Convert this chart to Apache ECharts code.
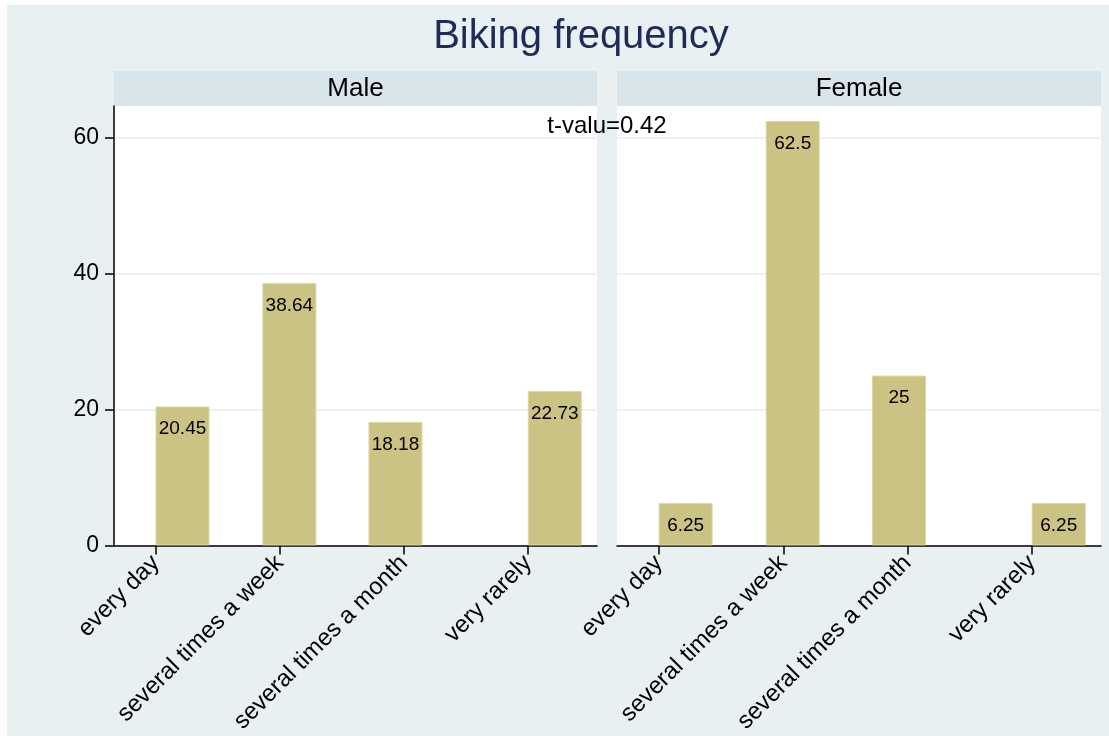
<!DOCTYPE html>
<html>
<head>
<meta charset="utf-8">
<script src="https://cdn.jsdelivr.net/npm/echarts@6/dist/echarts.min.js"></script>
<style>
  html, body { margin: 0; padding: 0; background: #fff; }
  #chart { width: 1109px; height: 736px; }
</style>
</head>
<body>
<div id="chart"></div>
<script>
// categories and where they sit on the panel axis
const categories = ['every day', 'several times a week', 'several times a month', 'very rarely'];
const tickPos = [1, 2, 3, 4];
// bar x positions as drawn in the original (they do not line up with the ticks)
const barPos = [1.215, 2.076, 2.931, 4.215];
const maleValues = [20.45, 38.64, 18.18, 22.73];
const femaleValues = [6.25, 62.5, 25, 6.25];
const yTicks = [0, 20, 40, 60];
const panels = ['Male', 'Female'];
const tValueText = 't-valu=0.42';

const font = 'Liberation Sans, Arial, Helvetica, sans-serif';
const barColor = '#cbc383';

const chart = echarts.init(document.getElementById('chart'));

const grids = [
  { left: 114, top: 106, width: 483, height: 440 },
  { left: 617, top: 106, width: 484, height: 440 }
];

function xAxisFor(i) {
  return {
    type: 'value',
    gridIndex: i,
    position: 'bottom',
    min: 0.663,
    max: 4.555,
    axisLine: { show: true, onZero: false, lineStyle: { color: '#000', width: 1.5 } },
    axisTick: { show: true, inside: false, length: 9, customValues: tickPos, lineStyle: { color: '#000', width: 1.5 } },
    axisLabel: {
      show: true,
      inside: false,
      customValues: tickPos,
      rotate: 45,
      margin: 14,
      fontSize: 24,
      fontFamily: font,
      color: '#000',
      formatter: v => categories[Math.round(v) - 1] || ''
    },
    splitLine: { show: false }
  };
}

function yAxisFor(i) {
  const first = i === 0;
  return {
    type: 'value',
    gridIndex: i,
    position: 'left',
    min: 0,
    max: 64.7,
    interval: 20,
    axisLine: { show: first, onZero: false, lineStyle: { color: '#000', width: 1.5 } },
    axisTick: { show: first, inside: false, length: 9, customValues: yTicks, lineStyle: { color: '#000', width: 1.5 } },
    axisLabel: {
      show: first,
      inside: false,
      customValues: yTicks,
      margin: 15,
      fontSize: 23,
      fontFamily: font,
      color: '#000'
    },
    splitLine: { show: true, lineStyle: { color: '#e6eef0', width: 1.5 } }
  };
}

function barSeries(i, values) {
  return {
    type: 'bar',
    xAxisIndex: i,
    yAxisIndex: i,
    barWidth: 54,
    data: values.map((v, k) => [barPos[k], v]),
    itemStyle: { color: barColor, borderColor: '#dcd7a6', borderWidth: 1 },
    label: {
      show: true,
      position: 'insideTop',
      distance: 13,
      fontSize: 19,
      fontFamily: font,
      color: '#000',
      formatter: p => p.value[1]
    },
    silent: true,
    animation: false
  };
}

const graphics = [
  { type: 'rect', z: -10, shape: { x: 7, y: 5, width: 1102, height: 731 }, style: { fill: '#e8f0f2' } },
  {
    type: 'text', z: 10,
    style: { x: 581, y: 37, text: 'Biking frequency', align: 'center', verticalAlign: 'middle',
      fontSize: 40, fontFamily: font, fill: '#1e2b58' }
  },
  {
    type: 'text', z: 100,
    style: { x: 607, y: 126, text: tValueText, align: 'center', verticalAlign: 'middle',
      fontSize: 24, fontFamily: font, fill: '#000' }
  }
];
panels.forEach((name, i) => {
  const g = grids[i];
  graphics.push({
    type: 'rect', z: -5,
    shape: { x: g.left, y: 71, width: g.width, height: 35 },
    style: { fill: '#d8e5eb' }
  });
  graphics.push({
    type: 'text', z: 10,
    style: { x: g.left + g.width / 2, y: 88.5, text: name, align: 'center', verticalAlign: 'middle',
      fontSize: 26, fontFamily: font, fill: '#000' }
  });
});

const option = {
  backgroundColor: '#ffffff',
  animation: false,
  grid: grids.map(g => Object.assign({ show: true, backgroundColor: '#ffffff', borderWidth: 0 }, g)),
  xAxis: [xAxisFor(0), xAxisFor(1)],
  yAxis: [yAxisFor(0), yAxisFor(1)],
  series: [barSeries(0, maleValues), barSeries(1, femaleValues)],
  graphic: graphics
};
chart.setOption(option);
</script>
</body>
</html>
